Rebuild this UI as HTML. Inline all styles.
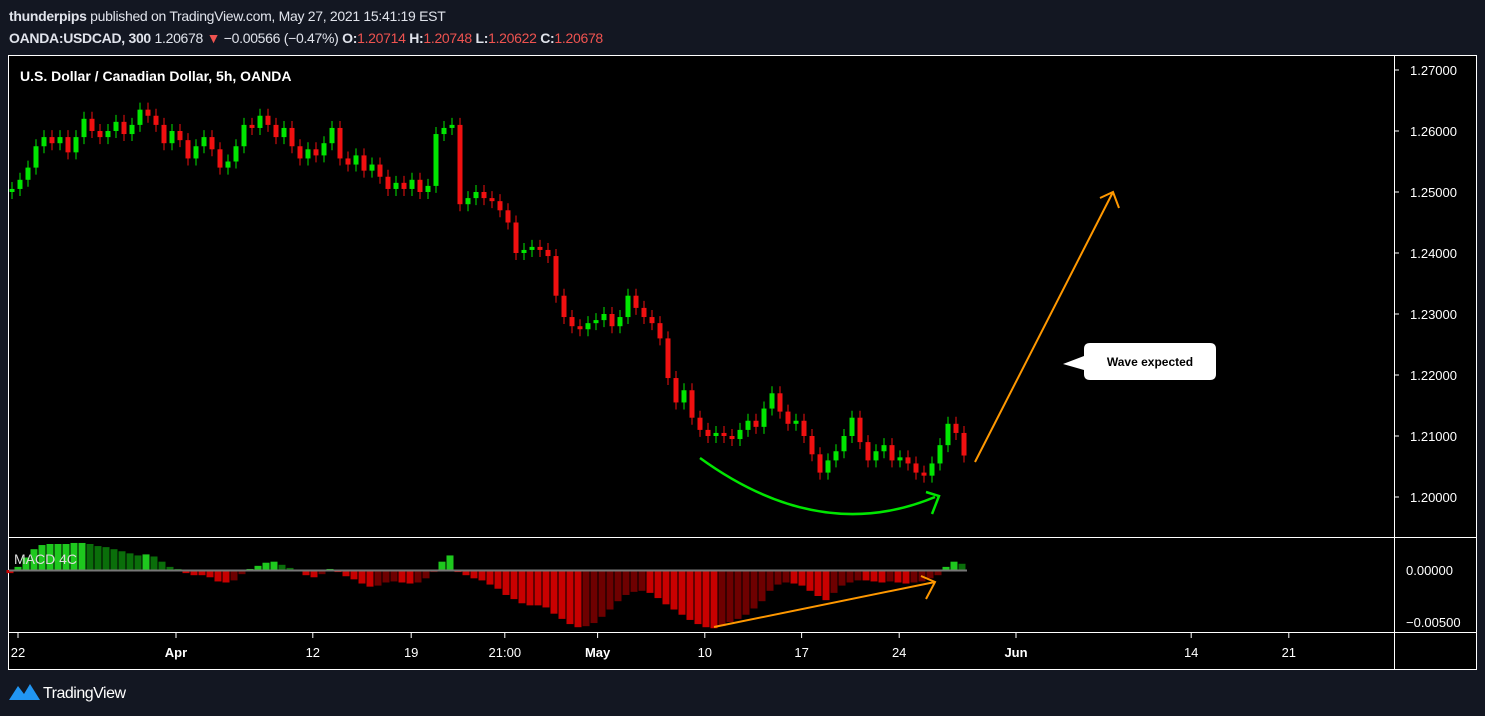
<!DOCTYPE html>
<html><head><meta charset="utf-8"><style>
html,body{margin:0;padding:0;background:#131722;width:1485px;height:716px;overflow:hidden;font-family:"Liberation Sans",sans-serif}
.hdr{position:absolute;left:9px;color:#e0e3eb;font-size:14px;white-space:nowrap;letter-spacing:-0.3px}
.red{color:#ef5350}
</style></head><body>
<div class="hdr" style="top:8px"><b>thunderpips</b> published on TradingView.com, May 27, 2021 15:41:19 EST</div>
<div class="hdr" style="top:30px"><b>OANDA:USDCAD, 300</b> 1.20678 <span class="red">▼</span> −0.00566 (−0.47%) <b>O:</b><span class="red">1.20714</span> <b>H:</b><span class="red">1.20748</span> <b>L:</b><span class="red">1.20622</span> <b>C:</b><span class="red">1.20678</span></div>
<svg id="chart" width="1485" height="716" style="position:absolute;left:0;top:0" xmlns="http://www.w3.org/2000/svg" font-family="Liberation Sans, sans-serif">
<rect x="8.5" y="55.5" width="1468" height="614" fill="#000" stroke="#fff" stroke-width="1"/>
<line x1="1394.5" y1="55" x2="1394.5" y2="669" stroke="#fff"/>
<line x1="8" y1="537.5" x2="1476" y2="537.5" stroke="#fff"/>
<line x1="8" y1="632.5" x2="1476" y2="632.5" stroke="#fff"/>
<text x="20" y="81" fill="#fff" font-size="14" font-weight="bold">U.S. Dollar / Canadian Dollar, 5h, OANDA</text>
<g id="candles"></g><g id="hist"></g><g id="yaxis"></g><g id="xaxis"></g>
<text x="14" y="564" fill="#ddd" font-size="14">MACD 4C</text>
<path d="M700,458 Q820,545 935,497" fill="none" stroke="#00e600" stroke-width="2.5"/>
<path d="M926,492 L939,496 L932,514" fill="none" stroke="#00e600" stroke-width="2.5"/>
<path d="M975,462 L1113,192 M1100,198 L1113,192 L1119,208" fill="none" stroke="#ff9800" stroke-width="2"/>
<path d="M714,627 L935,582 M921,576 L935,582 L926,599" fill="none" stroke="#ff9800" stroke-width="2"/>
<g>
<path d="M1090,343 H1210 Q1216,343 1216,349 V374 Q1216,380 1210,380 H1090 Q1084,380 1084,374 V370 L1063,364 L1084,356 V349 Q1084,343 1090,343 Z" fill="#fff"/>
<text x="1150" y="366" fill="#000" font-size="12" font-weight="bold" text-anchor="middle">Wave expected</text>
</g>
<g>
<path d="M9,700 L18,686 L24,694 L30,684 L40,700 Z" fill="#2196f3"/>
<text x="43" y="698" fill="#fff" font-size="16" letter-spacing="-0.5">TradingView</text>
</g>
</svg>
<script>
const closes=[1.2505,1.2520,1.2540,1.2575,1.2590,1.2580,1.2590,1.2565,1.2590,1.2620,1.2600,1.2590,1.2600,1.2615,1.2595,1.2610,1.2635,1.2625,1.2610,1.2580,1.2600,1.2585,1.2555,1.2575,1.2590,1.2570,1.2540,1.2550,1.2575,1.2610,1.2605,1.2625,1.2610,1.2590,1.2605,1.2575,1.2555,1.2570,1.2560,1.2580,1.2605,1.2555,1.2545,1.2560,1.2535,1.2545,1.2525,1.2505,1.2515,1.2505,1.2520,1.2500,1.2510,1.2595,1.2605,1.2610,1.2480,1.2490,1.2500,1.2490,1.2485,1.2470,1.2450,1.2400,1.2405,1.2410,1.2405,1.2395,1.2330,1.2295,1.2280,1.2275,1.2285,1.2290,1.2300,1.2280,1.2295,1.2330,1.2310,1.2295,1.2285,1.2260,1.2195,1.2155,1.2175,1.2130,1.2110,1.2100,1.2105,1.2100,1.2095,1.2110,1.2125,1.2115,1.2145,1.2170,1.2140,1.2120,1.2125,1.2100,1.2070,1.2040,1.2060,1.2075,1.2100,1.2130,1.2090,1.2060,1.2075,1.2085,1.2060,1.2065,1.2055,1.2040,1.2035,1.2055,1.2085,1.2120,1.2105,1.2068];
const macd=[-0.0003,0.0003,0.0012,0.0020,0.0024,0.0025,0.0025,0.0025,0.0026,0.0026,0.0025,0.0023,0.0022,0.0020,0.0018,0.0016,0.0014,0.0015,0.0013,0.0008,0.0003,0.0001,-0.0003,-0.0005,-0.0005,-0.0007,-0.0011,-0.0012,-0.0010,-0.0004,0.0001,0.0004,0.0007,0.0008,0.0005,0.0002,-0.0001,-0.0005,-0.0007,-0.0004,0.0001,-0.0002,-0.0006,-0.0009,-0.0013,-0.0016,-0.0015,-0.0012,-0.0011,-0.0012,-0.0013,-0.0012,-0.0008,-0.0002,0.0008,0.0014,-0.0002,-0.0005,-0.0008,-0.0010,-0.0014,-0.0018,-0.0024,-0.0028,-0.0032,-0.0034,-0.0034,-0.0036,-0.0042,-0.0047,-0.0052,-0.0055,-0.0054,-0.0051,-0.0045,-0.0038,-0.0030,-0.0024,-0.0021,-0.0020,-0.0022,-0.0027,-0.0033,-0.0038,-0.0043,-0.0048,-0.0052,-0.0055,-0.0056,-0.0054,-0.0050,-0.0047,-0.0043,-0.0037,-0.0030,-0.0020,-0.0014,-0.0012,-0.0013,-0.0015,-0.0020,-0.0025,-0.0029,-0.0022,-0.0015,-0.0012,-0.0010,-0.0010,-0.0011,-0.0012,-0.0011,-0.0012,-0.0013,-0.0012,-0.0011,-0.0008,-0.0005,0.0003,0.0008,0.0006];
const priceTicks=["1.27000","1.26000","1.25000","1.24000","1.23000","1.22000","1.21000","1.20000"];
const priceTickVals=[1.27,1.26,1.25,1.24,1.23,1.22,1.21,1.20];
const macdTicks=["0.00000","−0.00500"];
const macdTickVals=[0,-0.005];
const timeLabels=["22","Apr","12","19","21:00","May","10","17","24","Jun","14","21"];
const timeIdx=[0.75,20.5,37.6,49.9,61.6,73.2,86.6,98.7,110.9,125.5,147.4,159.6];
const boldLabels=["Apr","May","Jun"];
const NS="http://www.w3.org/2000/svg";
const yP=v=>70+(1.27-v)*6100;
const yM=v=>570-v*10400;
const xC=i=>12+i*8;
const xM=i=>10+i*8;
function mk(tag,attrs,parent){const e=document.createElementNS(NS,tag);for(const k in attrs)e.setAttribute(k,attrs[k]);document.getElementById(parent).appendChild(e);return e;}
for(let i=0;i<closes.length;i++){
 const o=i?closes[i-1]:closes[i]-0.0005,c=closes[i];
 const up=c>=o,col=up?"#00e600":"#f01010";
 const top=yP(Math.max(o,c)),bot=yP(Math.min(o,c));
 const w=mk("line",{x1:xC(i),x2:xC(i),y1:top-7,y2:bot+7,stroke:col,"stroke-width":1},"candles");
 
 
 const b=mk("rect",{x:xC(i)-2.5,y:top,width:5,height:Math.max(1,bot-top),fill:col},"candles");
 
 
}
for(let i=0;i<macd.length;i++){
 const v=macd[i],p=i?macd[i-1]:v;
 let col;
 if(v>=0)col=v>=p?"#1ec81e":"#0a6e0a";else col=v<=p?"#c80000":"#6e0000";
 const y0=yM(0),y1=yM(v);
 const r=mk("rect",{x:xM(i)-3.5,y:Math.min(y0,y1),width:7,height:Math.max(1,Math.abs(y1-y0)),fill:col},"hist");
 
 
}
const zl=mk("line",{x1:9,x2:967,y1:570.5,y2:570.5,stroke:"#777","stroke-width":2},"hist");


priceTicks.forEach((t,i)=>{
 const e=mk("text",{x:1410,y:yP(priceTickVals[i])+5,fill:"#fff","font-size":13},"yaxis");e.textContent=t;
 
 
 mk("line",{x1:1394,x2:1399,y1:yP(priceTickVals[i]),y2:yP(priceTickVals[i]),stroke:"#fff"},"yaxis");
});
macdTicks.forEach((t,i)=>{
 const e=mk("text",{x:1406,y:yM(macdTickVals[i])+5,fill:"#fff","font-size":13},"yaxis");e.textContent=t;
 
 
});
timeLabels.forEach((t,i)=>{
 const x=xC(timeIdx[i]);
 mk("line",{x1:x,x2:x,y1:633,y2:638,stroke:"#fff"},"xaxis");
 const e=mk("text",{x:x,y:657,fill:"#fff","font-size":13,"text-anchor":"middle","font-weight":boldLabels.includes(t)?"bold":"normal"},"xaxis");e.textContent=t;
 
 
});
</script>
</body></html>
